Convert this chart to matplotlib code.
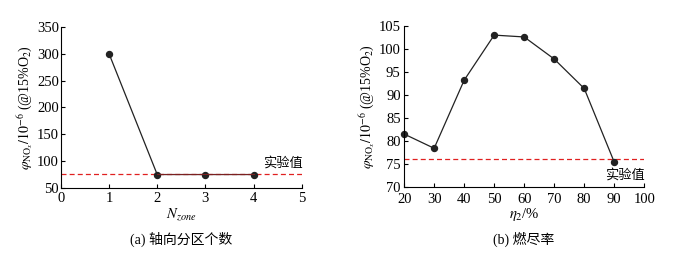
import matplotlib.pyplot as plt

plt.rcParams['font.family'] = ['Liberation Serif', 'Noto Sans CJK SC']
plt.rcParams['mathtext.fontset'] = 'stix'
plt.rcParams['font.size'] = 10.5

# 数据
n_zone = [1, 2, 3, 4]
nox_zone = [300, 75, 75, 75]
exp_zone = 76

eta2 = [20, 30, 40, 50, 60, 70, 80, 90]
nox_eta = [81.5, 78.4, 93.2, 103.0, 102.6, 97.8, 91.4, 75.4]
exp_eta = 76

ylab = r'$\varphi_{\mathrm{NO}_x}/10^{-6}$ (@15%O$_2$)'

fig = plt.figure(figsize=(6.92, 2.54), dpi=100)
ax1 = fig.add_axes([0.088, 0.26, 0.348, 0.634])
ax2 = fig.add_axes([0.584, 0.264, 0.347, 0.634])

for ax in (ax1, ax2):
    ax.spines['top'].set_visible(False)
    ax.spines['right'].set_visible(False)
    ax.tick_params(direction='in', length=3, width=0.8, pad=1.5)
    ax.tick_params(axis='x', pad=3)
    ax.set_ylabel(ylab, labelpad=1, fontsize=10)

# (a)
ax1.axhline(exp_zone, color='#e02020', ls=(0, (4, 2.5)), lw=0.9)
ax1.plot(n_zone, nox_zone, 'o-', color='#222222', ms=4.3, lw=0.9)
ax1.plot(n_zone[1:], [exp_zone] * 3, color='#d62020', lw=0.6, alpha=0.6)
ax1.set_xlim(0, 5)
ax1.set_ylim(50, 350)
ax1.set_xticks(range(0, 6))
ax1.set_yticks(range(50, 351, 50))
ax1.set_xlabel(r'$N_{zone}$', labelpad=1)
ax1.text(4.6, 96.6, '实验值', ha='center', va='center', fontsize=9.5,
         family=['Noto Sans CJK SC'])
fig.text(0.262, 0.04, '(a) 轴向分区个数', ha='center', fontsize=10,
         family=['Liberation Serif', 'Noto Sans CJK SC'])

# (b)
ax2.tick_params(axis='x', pad=4.5)
ax2.tick_params(axis='y', pad=2.5)
ax2.axhline(exp_eta, color='#e02020', ls=(0, (4, 2.5)), lw=0.9)
ax2.plot(eta2, nox_eta, 'o-', color='#222222', ms=4.3, lw=0.9, clip_on=False)
ax2.set_xlim(20, 100)
ax2.set_ylim(70, 105)
ax2.set_xticks(range(20, 101, 10))
ax2.set_yticks(range(70, 106, 5))
ax2.set_xlabel(r'$\eta_2$/%', labelpad=0)
ax2.text(93.5, 72.6, '实验值', ha='center', va='center', fontsize=9.5,
         family=['Noto Sans CJK SC'])
fig.text(0.757, 0.04, '(b) 燃尽率', ha='center', fontsize=10,
         family=['Liberation Serif', 'Noto Sans CJK SC'])

fig.savefig('out.png', dpi=100)
